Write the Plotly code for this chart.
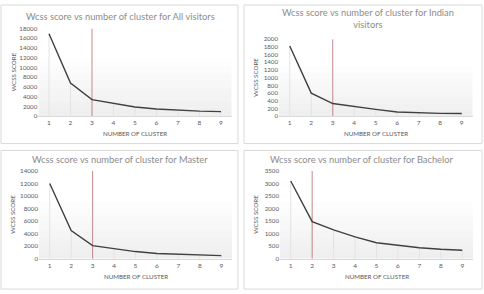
import plotly.graph_objects as go

W, H = 484, 294

clusters = [1, 2, 3, 4, 5, 6, 7, 8, 9]
all_visitors = [16900, 6800, 3400, 2600, 1900, 1500, 1250, 1050, 950]
indian_visitors = [1820, 600, 330, 250, 180, 110, 90, 75, 70]
master = [12000, 4500, 2100, 1600, 1150, 850, 750, 600, 500]
bachelor = [3100, 1480, 1150, 870, 640, 530, 440, 380, 340]

titles = ["Wcss score vs number of cluster for All visitors",
          "Wcss score vs number of cluster for Indian<br>visitors",
          "Wcss score vs number of cluster for Master",
          "Wcss score vs number of cluster for Bachelor"]
elbows = [3, 3, 3, 2]
y_max = [18000, 2000, 14000, 3500]
y_step = [2000, 200, 2000, 500]
series = [all_visitors, indian_visitors, master, bachelor]

# pixel layouts: plot area (left, right, top, bottom), panel box, title center
plot_px = [(38.25, 231.75, 25, 115), (279, 472.5, 36, 115),
           (39, 232, 171, 261), (280, 473, 171, 261)]
box_px = [(1, 238, 1, 143), (244, 482, 1, 143), (1, 238, 150, 292), (244, 482, 150, 292)]
title_px = [(120, 13), (368, 15), (120, 159), (361, 159)]

FONT = "Lato"

def px(x):
    return x / W

def py(y):
    return 1 - y / H

fig = go.Figure()
shapes = []
annotations = []
layout_axes = {}

for i in range(4):
    n = "" if i == 0 else str(i + 1)
    xa, ya = "x" + n, "y" + n
    l, r, t, b = plot_px[i]
    vals = series[i]
    # drop lines
    dx, dy = [], []
    for c, v in zip(clusters, vals):
        dx += [c, c, None]
        dy += [0, v, None]
    fig.add_trace(go.Scatter(x=dx, y=dy, mode="lines", xaxis=xa, yaxis=ya,
                             line=dict(color="#e3e3e3", width=1), hoverinfo="skip",
                             showlegend=False))
    # elbow marker line
    fig.add_trace(go.Scatter(x=[elbows[i], elbows[i]], y=[0, y_max[i]], mode="lines",
                             xaxis=xa, yaxis=ya, line=dict(color="#c48a8c", width=1),
                             showlegend=False))
    # main line
    fig.add_trace(go.Scatter(x=clusters, y=vals, mode="lines", xaxis=xa, yaxis=ya,
                             line=dict(color="#404040", width=1.4), showlegend=False))
    yt = list(range(0, y_max[i] + 1, y_step[i]))
    layout_axes["xaxis" + n] = dict(domain=[px(l), px(r)], range=[0.5, 9.5], anchor=ya,
                                    tickvals=clusters, ticktext=[str(c) for c in clusters],
                                    showgrid=False, zeroline=False, showline=True,
                                    linecolor="#d9d9d9", linewidth=1, ticks="",
                                    tickfont=dict(size=6.5, color="#595959", family=FONT),
                                    fixedrange=True)
    layout_axes["yaxis" + n] = dict(domain=[py(b), py(t)], range=[0, y_max[i]], anchor=xa,
                                    tickvals=yt, ticktext=[str(v) for v in yt],
                                    showgrid=False, zeroline=False, showline=False, ticks="",
                                    tickfont=dict(size=6.2, color="#595959", family=FONT),
                                    fixedrange=True)
    # gradient-ish background in lower part of plot area
    steps = 8
    for k in range(steps):
        y0 = t + (b - t) * (0.35 + 0.65 * k / steps)
        shapes.append(dict(type="rect", xref="paper", yref="paper", layer="below",
                           x0=px(l), x1=px(r), y0=py(b), y1=py(y0),
                           fillcolor="rgba(0,0,0,0.006)", line=dict(width=0)))
    # panel box
    bl, br, bt, bb = box_px[i]
    shapes.append(dict(type="rect", xref="paper", yref="paper",
                       x0=px(bl), x1=px(br), y0=py(bb), y1=py(bt),
                       line=dict(color="#d9d9d9", width=1)))
    # title
    tx, ty = title_px[i]
    annotations.append(dict(text=titles[i], x=px(tx), y=py(ty), xref="paper", yref="paper",
                            showarrow=False, xanchor="center", yanchor="middle",
                            font=dict(size=9.3, color="#8c8c8c", family=FONT)))
    # axis titles
    annotations.append(dict(text="NUMBER OF CLUSTER", x=px((l + r) / 2), y=py(b + 18),
                            xref="paper", yref="paper", showarrow=False,
                            xanchor="center", yanchor="middle",
                            font=dict(size=6.2, color="#595959", family=FONT)))
    annotations.append(dict(text="WCSS SCORE", x=px(box_px[i][0] + 12), y=py((t + b) / 2),
                            xref="paper", yref="paper", showarrow=False, textangle=-90,
                            xanchor="center", yanchor="middle",
                            font=dict(size=6.2, color="#595959", family=FONT)))

fig.update_layout(width=W, height=H, margin=dict(l=0, r=0, t=0, b=0),
                  paper_bgcolor="white", plot_bgcolor="rgba(0,0,0,0)",
                  shapes=shapes, annotations=annotations, **layout_axes)

fig.write_html("out.html", config={"displayModeBar": False})
